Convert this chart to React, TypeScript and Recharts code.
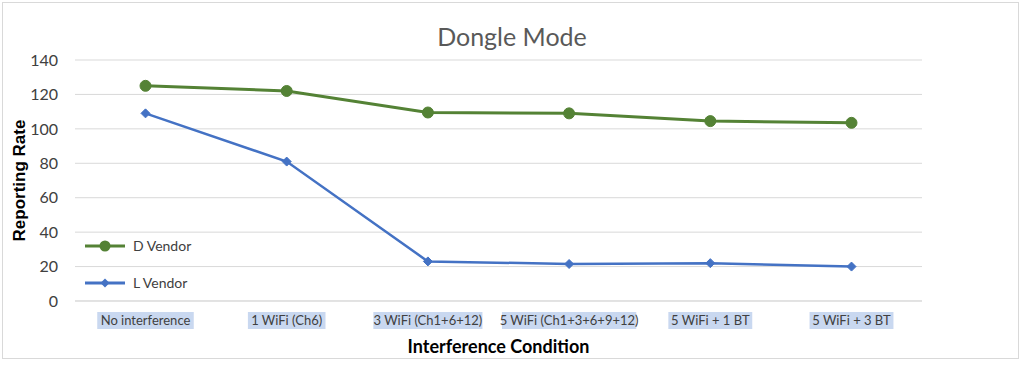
import React from "react";
import { LineChart, Line, XAxis, YAxis, CartesianGrid, Label } from "recharts";

const categories = [
  "No interference",
  "1 WiFi (Ch6)",
  "3 WiFi (Ch1+6+12)",
  "5 WiFi (Ch1+3+6+9+12)",
  "5 WiFi + 1 BT",
  "5 WiFi + 3 BT",
];
const dVendor = [125, 122, 109.5, 109, 104.5, 103.5];
const lVendor = [109, 81, 23, 21.5, 22, 20];
const yTicks = [0, 20, 40, 60, 80, 100, 120, 140];
const seriesNames = ["D Vendor", "L Vendor"];

const data = categories.map((c, i) => ({ name: c, d: dVendor[i], l: lVendor[i] }));

const GREEN = "#548235";
const BLUE = "#4472C4";
const FONT = "Lato, 'Open Sans', sans-serif";

const XTick = (props: any) => {
  const { x, y, payload } = props;
  const text = String(payload.value);
  const w = text.length * 6.3 + 2;
  return (
    <g>
      <rect x={x - w / 2} y={y + 3} width={w} height={17} fill="#c9d8f0" />
      <text x={x} y={y + 16} textAnchor="middle" fontSize={13} fill="#404040" fontFamily={FONT}>
        {text}
      </text>
    </g>
  );
};

const Diamond = (props: any) => {
  const { cx, cy } = props;
  if (cx == null || cy == null) return null;
  const s = 4.5;
  return <path d={`M${cx},${cy - s} L${cx + s},${cy} L${cx},${cy + s} L${cx - s},${cy} Z`} fill={BLUE} stroke={BLUE} />;
};

const LegendBox = () => (
  <div style={{ position: "absolute", left: 83, top: 227, fontFamily: FONT, fontSize: 14, color: "#404040" }}>
    <div style={{ display: "flex", alignItems: "center", height: 37 }}>
      <svg width={44} height={14}>
        <line x1={2} y1={7} x2={42} y2={7} stroke={GREEN} strokeWidth={3} />
        <circle cx={22} cy={7} r={5.5} fill={GREEN} />
      </svg>
      <span style={{ marginLeft: 6, background: "#fff", paddingRight: 6 }}>{seriesNames[0]}</span>
    </div>
    <div style={{ display: "flex", alignItems: "center", height: 37 }}>
      <svg width={44} height={14}>
        <line x1={2} y1={7} x2={42} y2={7} stroke={BLUE} strokeWidth={3} />
        <path d="M22,2.5 L26.5,7 L22,11.5 L17.5,7 Z" fill={BLUE} />
      </svg>
      <span style={{ marginLeft: 6, background: "#fff", paddingRight: 6 }}>{seriesNames[1]}</span>
    </div>
  </div>
);

export default function App() {
  return (
    <div style={{ position: "absolute", left: 0, top: 0, width: 1024, height: 366, background: "#fff" }}>
      <div
        style={{
          position: "absolute",
          left: 2,
          top: 2,
          width: 1017,
          height: 357,
          border: "1px solid #d9d9d9",
          boxSizing: "border-box",
        }}
      />
      <div
        style={{
          position: "absolute",
          left: 0,
          top: 18,
          width: 1024,
          textAlign: "center",
          fontFamily: FONT,
          fontSize: 25,
          color: "#595959",
          lineHeight: "36px",
        }}
      >
        Dongle Mode
      </div>
      <div style={{ position: "absolute", left: 0, top: 0 }}>
        <LineChart width={1024} height={366} data={data} margin={{ top: 60, right: 102, bottom: 0, left: 0 }}>
          <CartesianGrid vertical={false} stroke="#d9d9d9" strokeWidth={1} />
          <XAxis
            dataKey="name"
            axisLine={{ stroke: "#d9d9d9" }}
            tickLine={false}
            tick={<XTick />}
            interval={0}
            height={65}
            padding={{ left: 70.5, right: 70.5 }}
          >
            <Label
              value="Interference Condition"
              position="insideBottom"
              offset={13}
              style={{ fontFamily: FONT, fontWeight: 700, fontSize: 18, fill: "#000" }}
            />
          </XAxis>
          <YAxis
            domain={[0, 140]}
            ticks={yTicks}
            axisLine={false}
            tickLine={false}
            tickSize={0}
            tickMargin={17}
            width={75}
            tick={{ fontSize: 16, fill: "#404040", fontFamily: FONT }}
          >
            <Label
              value="Reporting Rate"
              angle={-90}
              position="insideLeft"
              offset={19}
              style={{ textAnchor: "middle", fontFamily: "'Liberation Sans', Arial, sans-serif", fontWeight: 700, fontSize: 17, fill: "#000" }}
            />
          </YAxis>
          <Line
            dataKey="d"
            name={seriesNames[0]}
            stroke={GREEN}
            strokeWidth={3}
            dot={{ r: 5.5, fill: GREEN, stroke: GREEN, strokeWidth: 1 }}
            isAnimationActive={false}
          />
          <Line
            dataKey="l"
            name={seriesNames[1]}
            stroke={BLUE}
            strokeWidth={2.5}
            dot={<Diamond />}
            isAnimationActive={false}
          />
        </LineChart>
      </div>
      <LegendBox />
    </div>
  );
}
